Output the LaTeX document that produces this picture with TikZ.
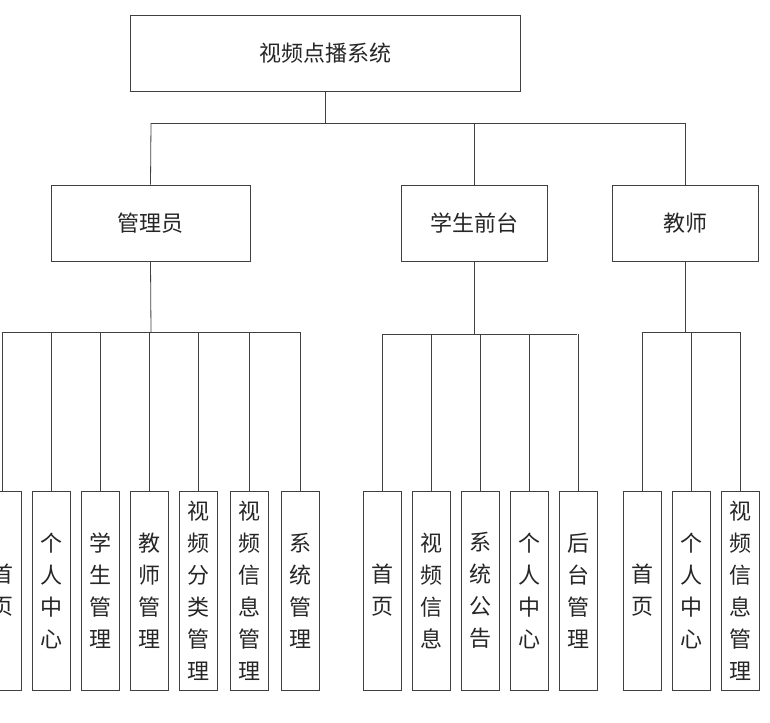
\documentclass[tikz,border=0pt]{standalone}
\usepackage{fontspec}
\newfontfamily\cjk{Noto Sans CJK SC}
\begin{document}
\begin{tikzpicture}[x=1pt,y=-1pt,
  box/.style={draw=black!75,line width=0.8pt,fill=white,inner sep=0pt,font=\cjk\fontsize{22}{32}\selectfont,text=black!85},
  leaf/.style={box,minimum width=38pt,minimum height=199pt,align=center},
  ln/.style={draw=black!75,line width=0.8pt}]
\useasboundingbox (0,0) rectangle (770,722);
\clip (0,0) rectangle (770,722);
\node[box,minimum width=390pt,minimum height=76pt] (root) at (325,53) {视频点播系统};
\node[box,minimum width=199pt,minimum height=76pt] (adm) at (150.5,223) {管理员};
\node[box,minimum width=146pt,minimum height=76pt] (stu) at (474,223) {学生前台};
\node[box,minimum width=146pt,minimum height=76pt] (tea) at (685,223) {教师};
\coordinate (r1) at (325,123);
\draw[ln] (root.south) -- (r1);
\draw[ln] (151,123) -- (685,123);
\draw[ln] (151,123) -- (adm.north);
\draw[ln] (474,123) -- (stu.north);
\draw[ln] (685,123) -- (tea.north);
% admin
\draw[ln] (adm.south) -- (151,332);
\draw[ln] (2,332) -- (300,332);
\foreach \x/\t/\n in {2/首\\页/a1,51/个\\人\\中\\心/a2,100/学\\生\\管\\理/a3,149/教\\师\\管\\理/a4,198/视\\频\\分\\类\\管\\理/a5,249/视\\频\\信\\息\\管\\理/a6,300/系\\统\\管\\理/a7}{
  \node[leaf] (\n) at (\x,590.5) {\t};
  \draw[ln] (\x,332) -- (\n.north);
}
% student
\draw[ln] (stu.south) -- (474,334);
\draw[ln] (382,334) -- (577,334);
\foreach \x/\t/\n in {382/首\\页/s1,431/视\\频\\信\\息/s2,480/系\\统\\公\\告/s3,529/个\\人\\中\\心/s4,578/后\\台\\管\\理/s5}{
  \node[leaf] (\n) at (\x,590.5) {\t};
  \draw[ln] (\x,334) -- (\n.north);
}
% teacher
\draw[ln] (tea.south) -- (685,332);
\draw[ln] (642,332) -- (740,332);
\foreach \x/\t/\n in {642/首\\页/t1,691/个\\人\\中\\心/t2,740/视\\频\\信\\息\\管\\理/t3}{
  \node[leaf] (\n) at (\x,590.5) {\t};
  \draw[ln] (\x,332) -- (\n.north);
}
\end{tikzpicture}
\end{document}
